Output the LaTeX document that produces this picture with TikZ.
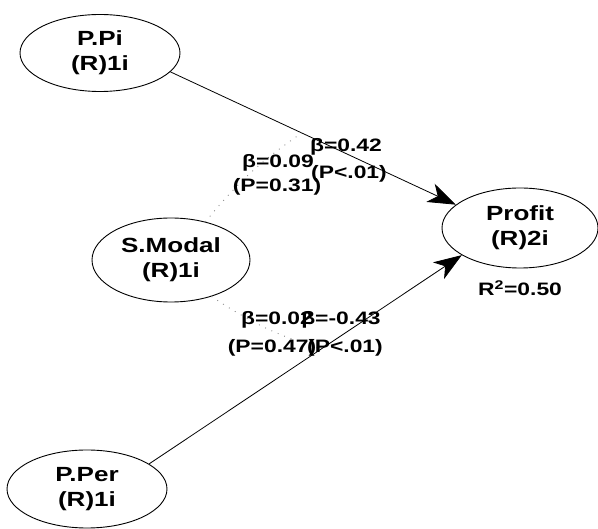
\documentclass[tikz,border=0pt]{standalone}
\usepackage{fontspec}
\setmainfont{Liberation Sans}
\usetikzlibrary{shapes.geometric,arrows.meta}
\newcommand{\sx}[1]{\scalebox{1.27}[1]{#1}}
\begin{document}
\begin{tikzpicture}[x=1pt,y=-1pt,
  lv/.style={draw=black, line width=0.9pt, ellipse, inner sep=0pt,
    align=center, font=\fontsize{20.5}{25}\selectfont\bfseries},
  lbl/.style={anchor=base, inner sep=0pt, font=\fontsize{18}{20}\selectfont\bfseries},
  arr/.style={draw=black, line width=0.8pt, -{Stealth[length=28pt,width=20pt,inset=8pt]}},
  dots/.style={draw=black!45, line width=0.9pt, dash pattern=on 0.9pt off 6pt}]
\useasboundingbox (0,0) rectangle (598,529);
\fill[white] (0,0) rectangle (598,529);
\node[lv, minimum width=160pt, minimum height=77pt] (ppi) at (100,53) {\sx{P.Pi}\\\sx{(R)1i}};
\node[lv, minimum width=158pt, minimum height=84pt] (smodal) at (171,260) {\sx{S.Modal}\\\sx{(R)1i}};
\node[lv, minimum width=156pt, minimum height=80pt] (profit) at (520,228) {\sx{Profit}\\\sx{(R)2i}};
\node[lv, minimum width=160pt, minimum height=78pt] (pper) at (87,489) {\sx{P.Per}\\\sx{(R)1i}};
\node[lbl] (r2) at (520,296) {\sx{R$^{\mathbf{2}}$=0.50}};
\draw[arr] (ppi.-15) -- (profit.160) coordinate[pos=0.46] (ma);
\draw[arr] (pper.22) -- (profit.205) coordinate[pos=0.55] (mb);
\draw[dots] (smodal.48) to[bend left=8] (ma);
\draw[dots] (smodal.-42) to[bend right=8] (mb);
\node[lbl] (b1) at (346,152) {\sx{β=0.42}};
\node[lbl] (p1) at (349,179) {\sx{(P<.01)}};
\node[lbl] (b2) at (278,168) {\sx{β=0.09}};
\node[lbl] (p2) at (277,192) {\sx{(P=0.31)}};
\node[lbl] (b3) at (277,325) {\sx{β=0.02}};
\node[lbl] (p3) at (272,353) {\sx{(P=0.47)}};
\node[lbl] (b4) at (341,325) {\sx{β=-0.43}};
\node[lbl] (p4) at (345,353) {\sx{(P<.01)}};
\end{tikzpicture}
\end{document}
